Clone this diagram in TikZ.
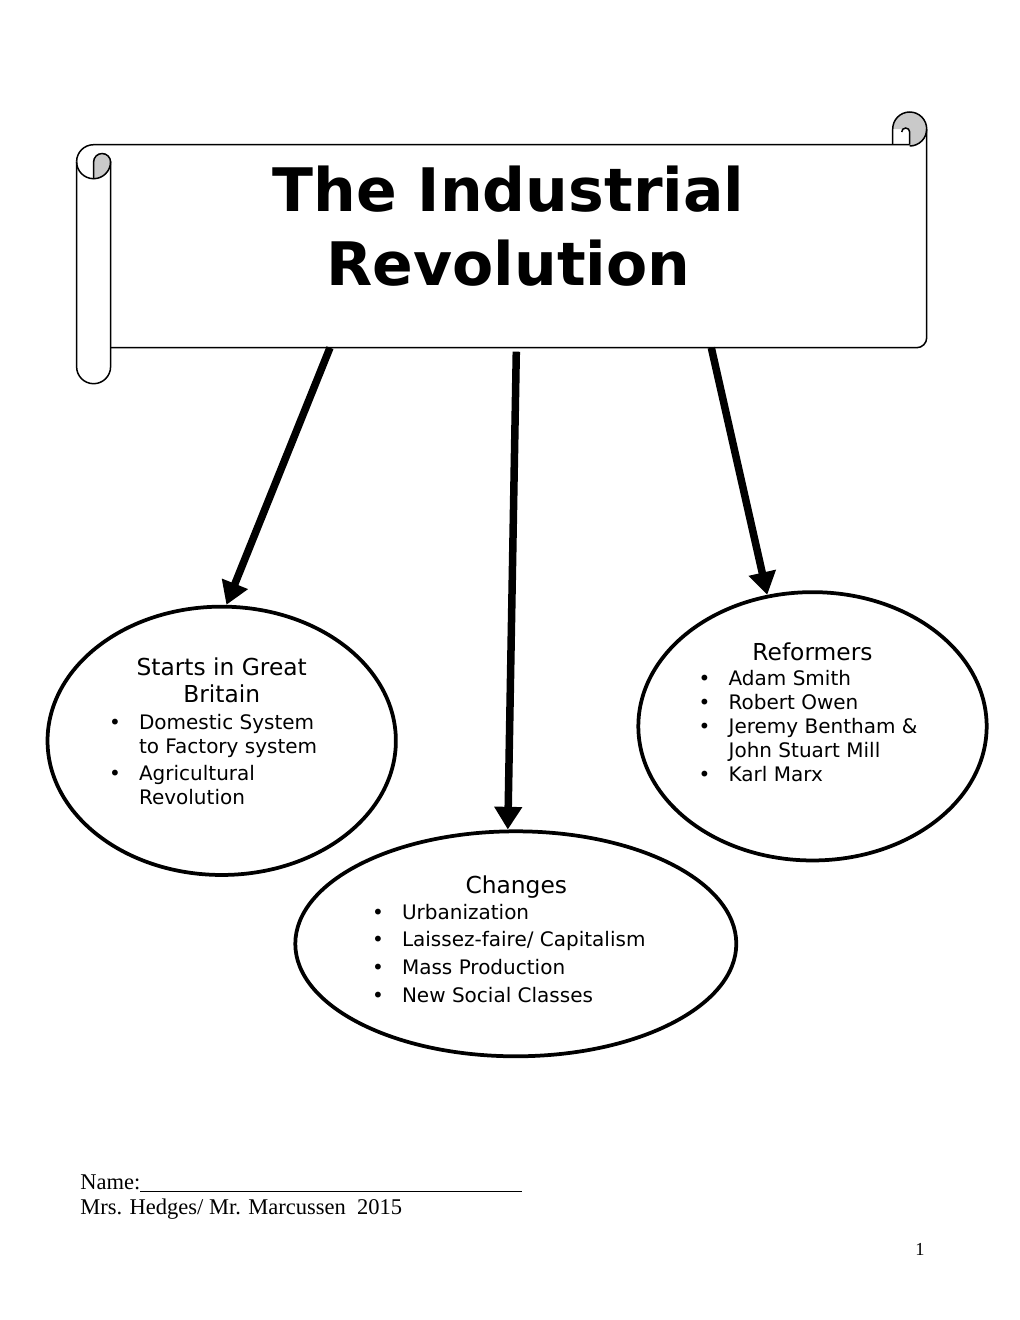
\documentclass[tikz,border=0pt]{standalone}
\usepackage{fontspec}
\setmainfont{DejaVu Sans}
\newfontfamily\timesfont{Liberation Serif}
\usepackage{tikz}
\usetikzlibrary{shapes.geometric, arrows.meta, positioning}

\definecolor{curlgray}{gray}{0.79}
\newcommand{\blt}{\makebox[18pt][l]{\textbullet}}
\newcommand{\cont}{\hspace*{18pt}}

\begin{document}
\begin{tikzpicture}[
    x=0.6pt, y=-0.6pt,
    oval/.style={ellipse, draw, line width=2.25pt, inner sep=0pt,
                 minimum width=209pt, minimum height=161pt},
    head/.style={anchor=base, inner sep=0pt, font=\fontsize{14}{16.6}\selectfont},
    items/.style={anchor=base west, inner sep=0pt, font=\fontsize{12}{14.4}\selectfont},
    arr/.style={line width=4.5pt, -{Triangle[length=13.6pt, width=16pt]}},
    roll/.style={line width=0.9pt}
  ]
    \useasboundingbox (0,0) rectangle (1020,1320);

    % scroll banner
    \fill[curlgray] (93.6,179) -- (93.6,162) arc[start angle=180, end angle=360, radius=8.5]
      arc[start angle=0, end angle=90, radius=17] -- cycle;
    \fill[curlgray] (892.7,129) arc[start angle=180, end angle=360, radius=17]
      arc[start angle=0, end angle=90, radius=17] -- (909.7,132)
      arc[start angle=0, end angle=-180, radius=4] -- (901.7,129) -- cycle;
    \draw[roll] (76.6,161.7) arc[start angle=180, end angle=270, radius=17] -- (909.7,144.7);
    \draw[roll] (76.6,161.7) -- (76.6,366.7) arc[start angle=180, end angle=0, radius=17] -- (110.6,161.7);
    \draw[roll] (76.6,161.7) arc[start angle=180, end angle=0, radius=17];
    \draw[roll] (93.6,179) -- (93.6,162) arc[start angle=180, end angle=360, radius=8.5];
    \draw[roll] (892.7,144.7) -- (892.7,129) arc[start angle=180, end angle=360, radius=17]
      arc[start angle=0, end angle=90, radius=17];
    \draw[roll] (909.7,144.7) -- (909.7,132) arc[start angle=0, end angle=-180, radius=4];
    \draw[roll, rounded corners=6pt] (926.7,129) -- (926.7,347.7) -- (110.6,347.7);

    \node[anchor=base, inner sep=0pt, font=\fontsize{36}{44.4}\selectfont\bfseries] (ttl) at (508.5,211)
      {\begin{tabular}[t]{@{}c@{}}The Industrial\\ Revolution\end{tabular}};

    % the three topics
    \node[oval] (gb) at (221.7,740.8) {};
    \node[oval] (rf) at (812.5,726.3) {};
    \node[oval, minimum width=264.6pt, minimum height=135pt] (ch) at (515.8,943.8) {};

    \node[head] (gbhead) at (221.7,675)
      {\begin{tabular}[t]{@{}c@{}}Starts in Great\\ Britain\end{tabular}};
    \node[items] (gblist) at (108.7,729.3)
      {\begin{tabular}[t]{@{}l@{}}\blt Domestic System\\ \cont to Factory system\\[2pt]
       \blt Agricultural\\ \cont Revolution\end{tabular}};

    \node[head] (rfhead) at (812.5,660) {Reformers};
    \node[items] (rflist) at (698.3,685)
      {\begin{tabular}[t]{@{}l@{}}\blt Adam Smith\\ \blt Robert Owen\\ \blt Jeremy Bentham \&\\
       \cont John Stuart Mill\\ \blt Karl Marx\end{tabular}};

    \node[head] (chhead) at (516.3,893.3) {Changes};
    \node[items, font=\fontsize{12}{16.6}\selectfont] (chlist) at (371.7,919)
      {\begin{tabular}[t]{@{}l@{}}\blt Urbanization\\ \blt Laissez-faire/ Capitalism\\
       \blt Mass Production\\ \blt New Social Classes\end{tabular}};

    % arrows from the banner
    \coordinate (gbtop) at (330,347.7);
    \coordinate (chtop) at (516.3,351.7);
    \coordinate (rftop) at (711.3,347.7);
    \draw[arr] (gbtop) -- (gb.88);
    \draw[arr] (chtop) -- (ch.94);
    \draw[arr] (rftop) -- (rf.109);

    % footer
    \node[anchor=base west, inner sep=0pt, font=\timesfont\fontsize{13.5}{15.4}\selectfont] (foot) at (80,1189.3)
      {\begin{tabular}[t]{@{}l@{}}Name:\rule[-1.8pt]{229pt}{0.6pt}\\ Mrs. Hedges/ Mr. Marcussen\ \ 2015\end{tabular}};
    \node[anchor=base, inner sep=0pt, font=\timesfont\fontsize{11}{12}\selectfont] (pg) at (920,1255) {1};
\end{tikzpicture}
\end{document}
